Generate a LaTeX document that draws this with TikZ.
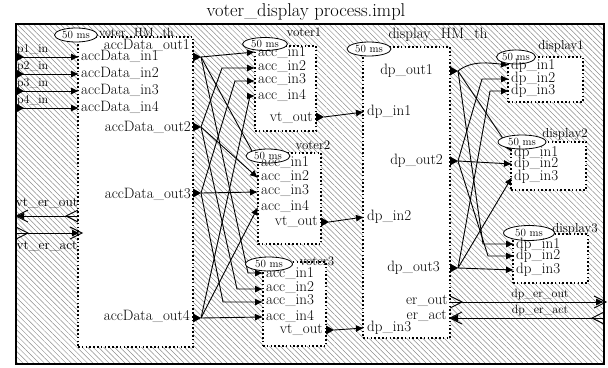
\documentclass[tikz,border=0pt]{standalone}
\usepackage{fontspec}
\usetikzlibrary{patterns.meta,arrows.meta,shapes.geometric}
\newcommand\pfnt{\fontsize{15}{15}\selectfont}
\newcommand\sfnt{\fontsize{12}{12}\selectfont}
\newcommand\tmfnt{\fontsize{11}{11}\selectfont}
\newcommand\mfnt{\fontsize{13}{13}\selectfont}
\newcommand\tfnt{\fontsize{18.5}{18.5}\selectfont}
\newcommand\efnt{\fontsize{13.5}{13.5}\selectfont}
\newcommand\optri[1]{\fill (#1) -- ++(-8,-4.5) -- ++(0,9) -- cycle;}
\begin{document}
\begin{tikzpicture}[x=1pt,y=-1pt,
 hatch/.style={pattern={Lines[angle=-45,distance=3.8pt,line width=0.5pt]},pattern color=black!45},
 box/.style={draw,fill=white,line width=1.2pt,dash pattern=on 1.6pt off 2.2pt,inner sep=0pt},
 conn/.style={line width=0.9pt,-{Latex[length=8pt,width=7pt]}},
 chev/.style={line width=0.9pt},
 tmr/.style={draw,fill=white,ellipse,inner sep=0pt,line width=0.8pt,font=\tmfnt},
 pl/.style={inner sep=0pt,font=\pfnt},
 cl/.style={inner sep=0pt,font=\mfnt},
 el/.style={inner sep=0pt,font=\efnt},
]
\useasboundingbox (0,0) rectangle (608,367);
\node[inner sep=0pt,font=\tfnt] (title) at (306,12) {voter\_display process.impl};
\node[draw,hatch,line width=1.4pt,minimum width=588,minimum height=340,inner sep=0pt] (proc) at (310,194) {};

% component boxes
\node[box,minimum width=115,minimum height=310] (hm) at (135.5,192) {};
\node[box,minimum width=61,minimum height=85] (v1) at (285.5,88.5) {};
\node[box,minimum width=63,minimum height=91] (v2) at (289.5,198.5) {};
\node[box,minimum width=63,minimum height=84] (v3) at (294.5,304) {};
\node[box,minimum width=87,minimum height=291] (dhm) at (406.5,192.5) {};
\node[box,minimum width=75,minimum height=45] (d1) at (545.5,79.5) {};
\node[box,minimum width=75,minimum height=48] (d2) at (548.5,166) {};
\node[box,minimum width=75,minimum height=49] (d3) at (550.5,258.5) {};

% port coordinates
\coordinate (pi1) at (16,57); \coordinate (pi2) at (16,74);
\coordinate (pi3) at (16,91); \coordinate (pi4) at (16,108);
\coordinate (hmi1) at (79,57); \coordinate (hmi2) at (79,74);
\coordinate (hmi3) at (79,91); \coordinate (hmi4) at (79,108);
\coordinate (hmo1) at (201,57); \coordinate (hmo2) at (201,127);
\coordinate (hmo3) at (201,193); \coordinate (hmo4) at (201,318);
\coordinate (v1i1) at (255,52); \coordinate (v1i2) at (255,68);
\coordinate (v1i3) at (255,81); \coordinate (v1i4) at (255,96);
\coordinate (v2i1) at (258,162); \coordinate (v2i2) at (258,178);
\coordinate (v2i3) at (258,192); \coordinate (v2i4) at (258,207);
\coordinate (v3i1) at (263,273); \coordinate (v3i2) at (263,289);
\coordinate (v3i3) at (263,302); \coordinate (v3i4) at (263,317);
\coordinate (v1o) at (324,117); \coordinate (v2o) at (329,222); \coordinate (v3o) at (334,330);
\coordinate (dhi1) at (364,112); \coordinate (dhi2) at (364,217); \coordinate (dhi3) at (364,328);
\coordinate (dho1) at (458,71); \coordinate (dho2) at (458,161); \coordinate (dho3) at (458,268);
\coordinate (d1i1) at (509,65); \coordinate (d1i2) at (509,79); \coordinate (d1i3) at (509,91);
\coordinate (d2i1) at (512,152); \coordinate (d2i2) at (512,164); \coordinate (d2i3) at (512,177);
\coordinate (d3i1) at (514,244); \coordinate (d3i2) at (514,256); \coordinate (d3i3) at (514,270);
\coordinate (hmeo) at (78,216); \coordinate (peo) at (16,216);
\coordinate (pea) at (16,233); \coordinate (hmea) at (80,233);
\coordinate (dheo) at (450,302); \coordinate (peo2) at (604,302);
\coordinate (pea2) at (604,318); \coordinate (dhea) at (450,318);

% process inputs
\foreach \k in {1,...,4}{\draw[conn] (pi\k) -- (hmi\k);}
\optri{24,57}\optri{24,74}\optri{24,91}\optri{24,108}

% voter_HM -> voters
\draw[conn] (hmo1) -- (v1i1);
\draw[conn] (hmo2) -- (222,0 |- v1i2) -- (v1i2);
\draw[conn] (hmo3) -- (235,0 |- v1i3) -- (v1i3);
\draw[conn] (hmo4) -- (250,0 |- v1i4) -- (v1i4);
\draw[conn] (hmo1) -- (v2i1);
\draw[conn] (hmo2) -- (v2i2);
\draw[conn] (hmo3) -- (v2i3);
\draw[conn] (hmo4) -- (v2i4);
\draw[conn] (hmo1) -- (248,0 |- v3i1) -- (v3i1);
\draw[conn] (hmo2) -- (237,0 |- v3i2) -- (v3i2);
\draw[conn] (hmo3) -- (223,0 |- v3i3) -- (v3i3);
\draw[conn] (hmo4) -- (v3i4);
\optri{hmo1}\optri{hmo2}\optri{hmo3}\optri{hmo4}

% voters -> display_HM
\draw[conn] (v1o) -- (dhi1);
\draw[conn] (v2o) -- (dhi2);
\draw[conn] (v3o) -- (dhi3);
\optri{v1o}\optri{v2o}\optri{v3o}

% display_HM -> displays
\draw[conn] (dho1) .. controls (472,60) and (490,63) .. (d1i1);
\draw[conn] (dho2) -- (482,0 |- d1i2) -- (d1i2);
\draw[conn] (dho3) -- (490,0 |- d1i3) -- (d1i3);
\draw[conn] (dho1) -- (d2i1);
\draw[conn] (dho2) -- (d2i2);
\draw[conn] (dho3) -- (d2i3);
\draw[conn] (dho1) -- (483,0 |- d3i1) -- (d3i1);
\draw[conn] (dho2) -- (488,0 |- d3i2) -- (d3i2);
\draw[conn] (dho3) -- (d3i3);
\optri{dho1}\optri{dho2}\optri{dho3}

% event connections
\draw[conn] (hmeo) -- (peo);
\draw[chev] (78,210) -- (66,216) -- (78,222);
\draw[chev] (28,210) -- (16,216) -- (28,222);
\draw[conn] (pea) -- (hmea);
\draw[chev] (16,227) -- (28,233) -- (16,239);
\draw[chev] (70,227) -- (82,233) -- (70,239);
\draw[conn] (dheo) -- (peo2);
\draw[chev] (450,296) -- (462,302) -- (450,308);
\draw[chev] (594,296) -- (606,302) -- (594,308);
\draw[conn] (pea2) -- (dhea);
\draw[chev] (462,312) -- (450,318) -- (462,324);
\draw[chev] (604,312) -- (592,318) -- (604,324);

% timers
\node[tmr,minimum width=43,minimum height=14] (thm) at (76,35) {50 ms};
\node[tmr,minimum width=45,minimum height=13] (tv1) at (265,44) {50 ms};
\node[tmr,minimum width=44,minimum height=14] (tv2) at (268,156) {50 ms};
\node[tmr,minimum width=47,minimum height=14] (tv3) at (269,264) {50 ms};
\node[tmr,minimum width=44,minimum height=14] (tdhm) at (369,49) {50 ms};
\node[tmr,minimum width=38,minimum height=14] (td1) at (516,57) {50 ms};
\node[tmr,minimum width=48,minimum height=14] (td2) at (522,142) {50 ms};
\node[tmr,minimum width=51,minimum height=15] (td3) at (529,233) {50 ms};

% component labels
\node[inner sep=0pt,font=\sfnt,anchor=west] (lhm) at (99,33) {voter\_HM\_th};
\node[cl] (lv1) at (304,32) {voter1};
\node[cl] (lv2) at (313,145) {voter2};
\node[cl] (lv3) at (317,261) {voter3};
\node[inner sep=0pt,font=\pfnt] (ldhm) at (438,35) {display\_HM\_th};
\node[cl] (ld1) at (561,46) {display1};
\node[cl] (ld2) at (565,134) {display2};
\node[cl] (ld3) at (575,229) {display3};

% port labels
\node[inner sep=0pt,font=\sfnt,anchor=west] (lp1) at (17,50) {p1\_in};
\node[inner sep=0pt,font=\sfnt,anchor=west] (lp2) at (17,67) {p2\_in};
\node[inner sep=0pt,font=\sfnt,anchor=west] (lp3) at (17,84) {p3\_in};
\node[inner sep=0pt,font=\sfnt,anchor=west] (lp4) at (17,101) {p4\_in};
\node[pl,anchor=west] (lhi1) at (81,56) {accData\_in1};
\node[pl,anchor=west] (lhi2) at (81,73) {accData\_in2};
\node[pl,anchor=west] (lhi3) at (81,90) {accData\_in3};
\node[pl,anchor=west] (lhi4) at (81,107) {accData\_in4};
\node[pl,anchor=east] (lho1) at (190,45) {accData\_out1};
\node[pl,anchor=east] (lho2) at (191,127) {accData\_out2};
\node[pl,anchor=east] (lho3) at (191,194) {accData\_out3};
\node[pl,anchor=east] (lho4) at (190,316) {accData\_out4};
\node[el] (lveo) at (47,203) {vt\_er\_out};
\node[el] (lvea) at (47,246) {vt\_er\_act};

\foreach \v/\x/\ya/\yb/\yc/\yd in {1/258/53/67/80/95,2/261/163/177/191/206,3/266/274/288/301/316}{
  \node[pl,anchor=west] (la\v a) at (\x,\ya) {acc\_in1};
  \node[pl,anchor=west] (la\v b) at (\x,\yb) {acc\_in2};
  \node[pl,anchor=west] (la\v c) at (\x,\yc) {acc\_in3};
  \node[pl,anchor=west] (la\v d) at (\x,\yd) {acc\_in4};
}
\node[pl,anchor=east] (lvo1) at (313,118) {vt\_out};
\node[pl,anchor=east] (lvo2) at (318,222) {vt\_out};
\node[pl,anchor=east] (lvo3) at (323,330) {vt\_out};

\node[pl,anchor=west] (ldi1) at (367,112) {dp\_in1};
\node[pl,anchor=west] (ldi2) at (367,217) {dp\_in2};
\node[pl,anchor=west] (ldi3) at (367,328) {dp\_in3};
\node[pl,anchor=east] (ldo1) at (433,71) {dp\_out1};
\node[pl,anchor=east] (ldo2) at (443,161) {dp\_out2};
\node[pl,anchor=east] (ldo3) at (440,268) {dp\_out3};
\node[pl,anchor=east] (ler1) at (448,301) {er\_out};
\node[pl,anchor=east] (ler2) at (447,316) {er\_act};

\foreach \d/\x/\ya/\yb/\yc in {1/511/66/79/91,2/514/153/164/177,3/516/245/256/270}{
  \node[pl,anchor=west] (ld\d a) at (\x,\ya) {dp\_in1};
  \node[pl,anchor=west] (ld\d b) at (\x,\yb) {dp\_in2};
  \node[pl,anchor=west] (ld\d c) at (\x,\yc) {dp\_in3};
}
\node[inner sep=0pt,font=\sfnt] (lder1) at (540,294) {dp\_er\_out};
\node[inner sep=0pt,font=\sfnt] (lder2) at (540,310) {dp\_er\_act};
\end{tikzpicture}
\end{document}
